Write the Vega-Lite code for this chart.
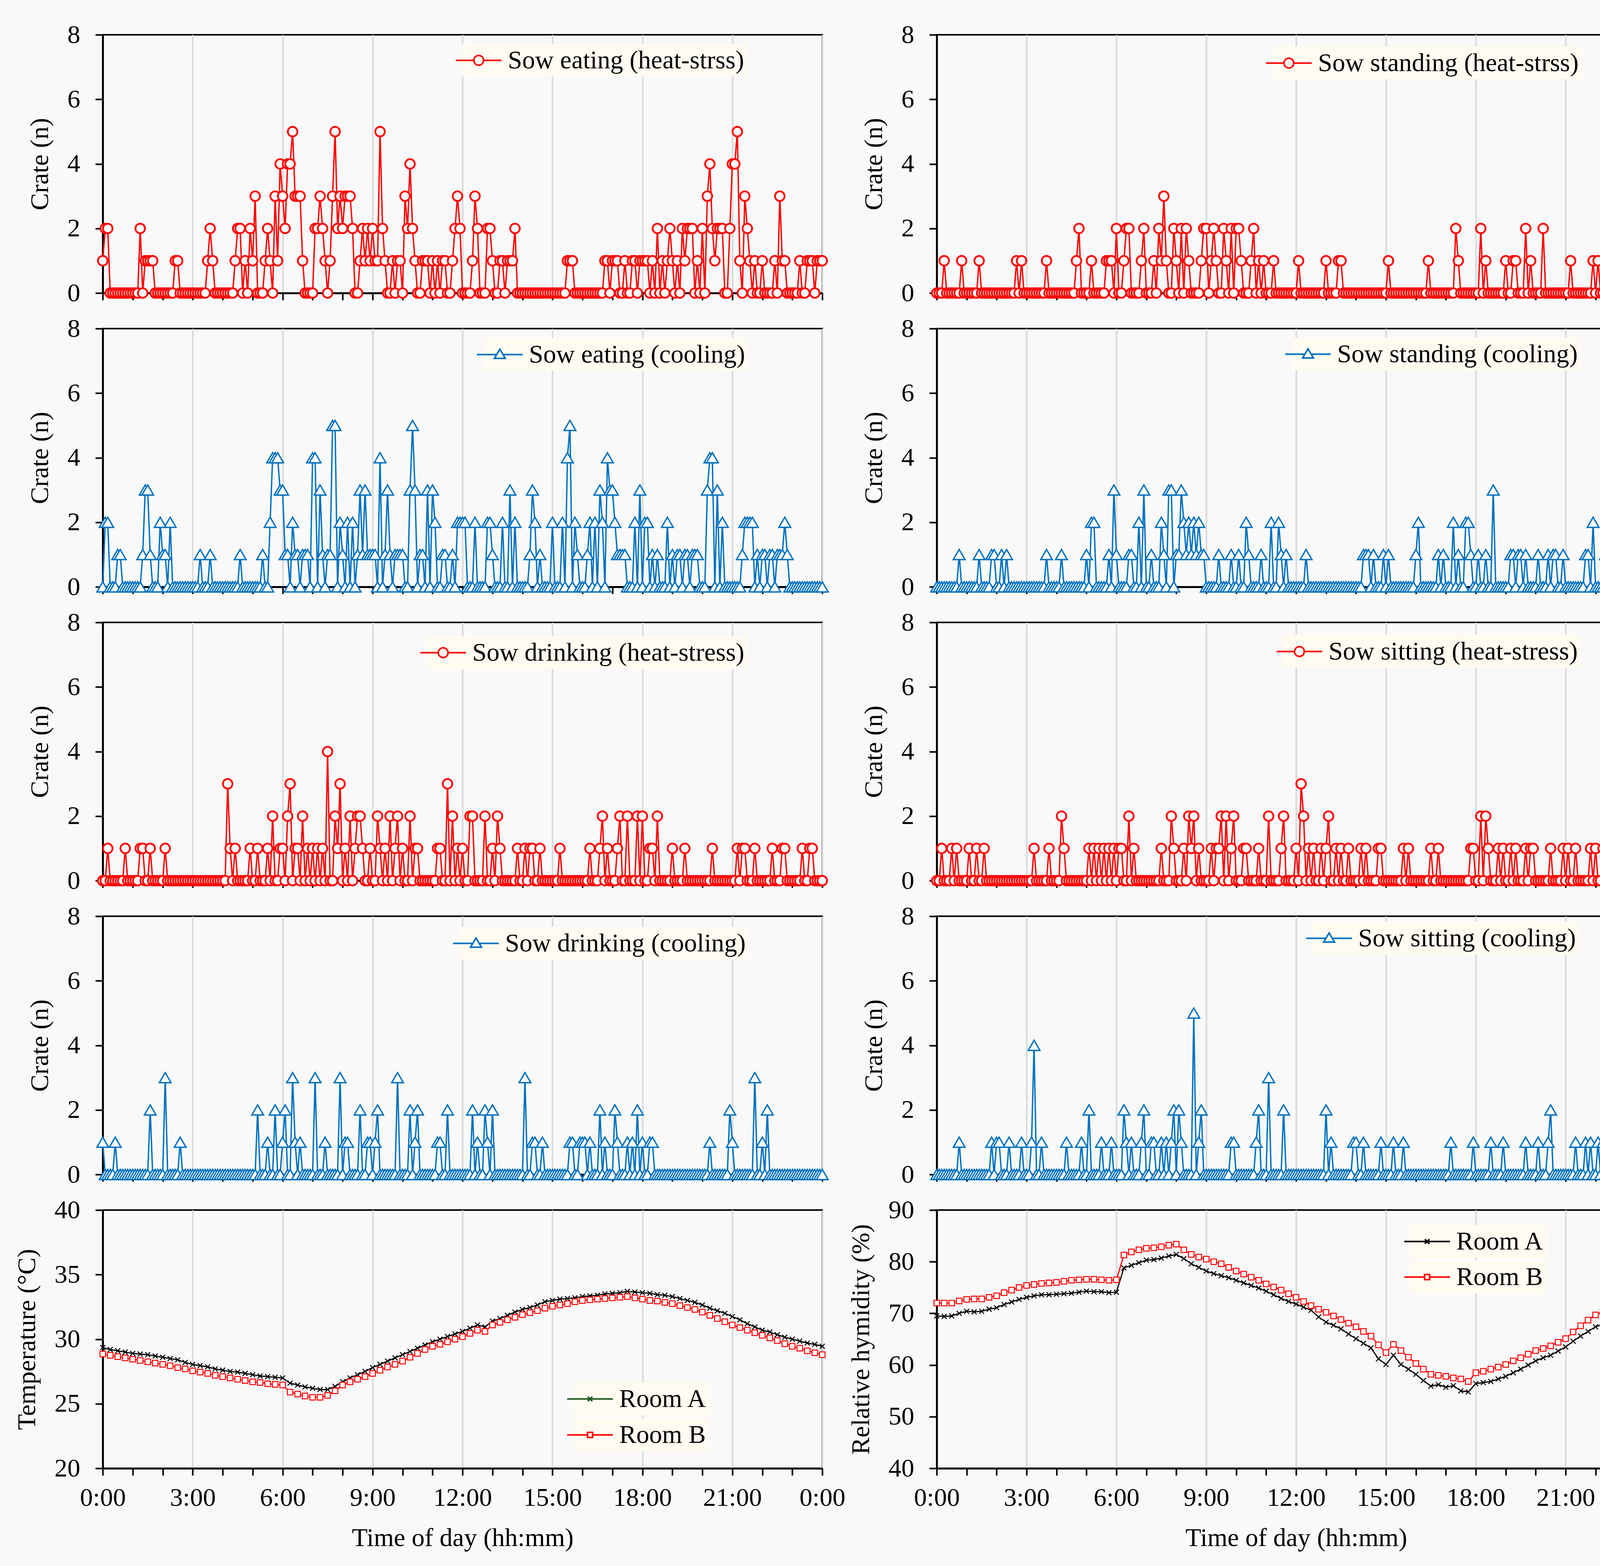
{
"$schema":"https://vega.github.io/schema/vega-lite/v6.json",
"background":"#F9F9F9",
"padding":{"left":34,"top":54,"right":30,"bottom":40},
"datasets":{
"c":[
{"t":0,"a":1,"b":0,"c":0,"d":0,"e":0,"f":0,"g":1,"h":0},
{"t":5,"a":2,"b":0,"c":2,"d":0,"e":0,"f":0,"g":0,"h":0},
{"t":10,"a":2,"b":0,"c":2,"d":0,"e":1,"f":1,"g":0,"h":0},
{"t":15,"a":0,"b":1,"c":0,"d":0,"e":0,"f":0,"g":0,"h":0},
{"t":20,"a":0,"b":0,"c":0,"d":0,"e":0,"f":0,"g":0,"h":0},
{"t":25,"a":0,"b":0,"c":0,"d":0,"e":0,"f":0,"g":1,"h":0},
{"t":30,"a":0,"b":0,"c":1,"d":0,"e":0,"f":1,"g":0,"h":0},
{"t":35,"a":0,"b":0,"c":1,"d":0,"e":0,"f":0,"g":0,"h":0},
{"t":40,"a":0,"b":0,"c":0,"d":0,"e":0,"f":1,"g":0,"h":0},
{"t":45,"a":0,"b":0,"c":0,"d":1,"e":1,"f":0,"g":0,"h":1},
{"t":50,"a":0,"b":1,"c":0,"d":0,"e":0,"f":0,"g":0,"h":0},
{"t":55,"a":0,"b":0,"c":0,"d":0,"e":0,"f":0,"g":0,"h":0},
{"t":60,"a":0,"b":0,"c":0,"d":0,"e":0,"f":0,"g":0,"h":0},
{"t":65,"a":0,"b":0,"c":0,"d":0,"e":0,"f":1,"g":0,"h":0},
{"t":70,"a":0,"b":0,"c":0,"d":0,"e":0,"f":0,"g":0,"h":0},
{"t":75,"a":2,"b":0,"c":0,"d":0,"e":1,"f":0,"g":0,"h":0},
{"t":80,"a":0,"b":0,"c":1,"d":0,"e":1,"f":1,"g":0,"h":0},
{"t":85,"a":1,"b":1,"c":3,"d":1,"e":0,"f":0,"g":0,"h":0},
{"t":90,"a":1,"b":0,"c":3,"d":0,"e":0,"f":0,"g":0,"h":0},
{"t":95,"a":1,"b":0,"c":1,"d":0,"e":1,"f":1,"g":2,"h":0},
{"t":100,"a":1,"b":0,"c":0,"d":0,"e":0,"f":0,"g":0,"h":0},
{"t":105,"a":0,"b":0,"c":0,"d":0,"e":0,"f":0,"g":0,"h":0},
{"t":110,"a":0,"b":0,"c":0,"d":1,"e":0,"f":0,"g":0,"h":1},
{"t":115,"a":0,"b":0,"c":2,"d":1,"e":0,"f":0,"g":0,"h":0},
{"t":120,"a":0,"b":0,"c":1,"d":0,"e":0,"f":0,"g":0,"h":1},
{"t":125,"a":0,"b":0,"c":1,"d":0,"e":1,"f":0,"g":3,"h":1},
{"t":130,"a":0,"b":0,"c":0,"d":1,"e":0,"f":0,"g":0,"h":0},
{"t":135,"a":0,"b":0,"c":2,"d":0,"e":0,"f":0,"g":0,"h":0},
{"t":140,"a":0,"b":0,"c":0,"d":1,"e":0,"f":0,"g":0,"h":0},
{"t":145,"a":1,"b":0,"c":0,"d":0,"e":0,"f":0,"g":0,"h":1},
{"t":150,"a":1,"b":0,"c":0,"d":0,"e":0,"f":0,"g":0,"h":0},
{"t":155,"a":0,"b":0,"c":0,"d":0,"e":0,"f":0,"g":1,"h":0},
{"t":160,"a":0,"b":1,"c":0,"d":0,"e":0,"f":0,"g":0,"h":0},
{"t":165,"a":0,"b":0,"c":0,"d":0,"e":0,"f":0,"g":0,"h":0},
{"t":170,"a":0,"b":1,"c":0,"d":0,"e":0,"f":0,"g":0,"h":1},
{"t":175,"a":0,"b":0,"c":0,"d":0,"e":0,"f":0,"g":0,"h":0},
{"t":180,"a":0,"b":0,"c":0,"d":0,"e":0,"f":0,"g":0,"h":0},
{"t":185,"a":0,"b":0,"c":0,"d":0,"e":0,"f":0,"g":0,"h":0},
{"t":190,"a":0,"b":0,"c":0,"d":0,"e":0,"f":0,"g":0,"h":1},
{"t":195,"a":0,"b":0,"c":1,"d":0,"e":0,"f":1,"g":0,"h":4},
{"t":200,"a":0,"b":0,"c":0,"d":0,"e":0,"f":0,"g":0,"h":0},
{"t":205,"a":0,"b":0,"c":0,"d":0,"e":0,"f":0,"g":0,"h":0},
{"t":210,"a":1,"b":0,"c":0,"d":0,"e":0,"f":0,"g":0,"h":1},
{"t":215,"a":2,"b":0,"c":1,"d":0,"e":0,"f":0,"g":0,"h":0},
{"t":220,"a":1,"b":1,"c":0,"d":1,"e":0,"f":0,"g":0,"h":0},
{"t":225,"a":0,"b":0,"c":0,"d":0,"e":0,"f":1,"g":0,"h":0},
{"t":230,"a":0,"b":0,"c":0,"d":0,"e":0,"f":0,"g":0,"h":0},
{"t":235,"a":0,"b":0,"c":0,"d":0,"e":0,"f":0,"g":0,"h":0},
{"t":240,"a":0,"b":0,"c":0,"d":0,"e":0,"f":0,"g":0,"h":0},
{"t":245,"a":0,"b":0,"c":0,"d":0,"e":0,"f":0,"g":0,"h":0},
{"t":250,"a":0,"b":0,"c":0,"d":1,"e":3,"f":2,"g":0,"h":0},
{"t":255,"a":0,"b":0,"c":0,"d":0,"e":1,"f":1,"g":0,"h":0},
{"t":260,"a":0,"b":0,"c":0,"d":0,"e":0,"f":0,"g":0,"h":1},
{"t":265,"a":1,"b":0,"c":0,"d":0,"e":1,"f":0,"g":0,"h":0},
{"t":270,"a":2,"b":0,"c":0,"d":0,"e":0,"f":0,"g":0,"h":0},
{"t":275,"a":2,"b":0,"c":1,"d":0,"e":0,"f":0,"g":0,"h":0},
{"t":280,"a":0,"b":1,"c":0,"d":0,"e":0,"f":0,"g":0,"h":0},
{"t":285,"a":1,"b":2,"c":0,"d":0,"e":0,"f":0,"g":0,"h":0},
{"t":290,"a":0,"b":0,"c":0,"d":0,"e":0,"f":0,"g":0,"h":1},
{"t":295,"a":2,"b":0,"c":0,"d":0,"e":1,"f":0,"g":0,"h":0},
{"t":300,"a":1,"b":0,"c":0,"d":1,"e":0,"f":0,"g":0,"h":0},
{"t":305,"a":3,"b":0,"c":0,"d":0,"e":0,"f":1,"g":0,"h":2},
{"t":310,"a":0,"b":1,"c":0,"d":2,"e":1,"f":0,"g":2,"h":0},
{"t":315,"a":0,"b":0,"c":0,"d":2,"e":0,"f":1,"g":0,"h":0},
{"t":320,"a":0,"b":0,"c":1,"d":0,"e":0,"f":0,"g":0,"h":0},
{"t":325,"a":1,"b":0,"c":0,"d":0,"e":0,"f":1,"g":0,"h":0},
{"t":330,"a":2,"b":0,"c":0,"d":0,"e":1,"f":0,"g":1,"h":1},
{"t":335,"a":1,"b":0,"c":2,"d":0,"e":0,"f":1,"g":0,"h":0},
{"t":340,"a":0,"b":1,"c":4,"d":0,"e":2,"f":0,"g":0,"h":0},
{"t":345,"a":3,"b":1,"c":4,"d":1,"e":0,"f":1,"g":2,"h":0},
{"t":350,"a":1,"b":1,"c":4,"d":0,"e":0,"f":0,"g":0,"h":1},
{"t":355,"a":4,"b":0,"c":3,"d":3,"e":1,"f":1,"g":0,"h":0},
{"t":360,"a":3,"b":2,"c":3,"d":1,"e":1,"f":0,"g":1,"h":0},
{"t":365,"a":2,"b":0,"c":1,"d":0,"e":0,"f":1,"g":2,"h":0},
{"t":370,"a":4,"b":0,"c":1,"d":0,"e":2,"f":1,"g":0,"h":0},
{"t":375,"a":4,"b":1,"c":0,"d":0,"e":3,"f":0,"g":0,"h":2},
{"t":380,"a":5,"b":2,"c":2,"d":0,"e":0,"f":0,"g":3,"h":1},
{"t":385,"a":3,"b":2,"c":1,"d":1,"e":1,"f":2,"g":1,"h":0},
{"t":390,"a":3,"b":0,"c":1,"d":1,"e":1,"f":0,"g":0,"h":1},
{"t":395,"a":3,"b":0,"c":0,"d":0,"e":0,"f":1,"g":1,"h":0},
{"t":400,"a":1,"b":0,"c":1,"d":0,"e":2,"f":0,"g":0,"h":0},
{"t":405,"a":0,"b":0,"c":1,"d":2,"e":0,"f":0,"g":0,"h":0},
{"t":410,"a":0,"b":1,"c":1,"d":0,"e":1,"f":0,"g":0,"h":1},
{"t":415,"a":0,"b":2,"c":0,"d":3,"e":0,"f":0,"g":0,"h":2},
{"t":420,"a":0,"b":0,"c":4,"d":0,"e":1,"f":0,"g":0,"h":0},
{"t":425,"a":2,"b":0,"c":4,"d":0,"e":0,"f":0,"g":3,"h":0},
{"t":430,"a":2,"b":0,"c":0,"d":1,"e":1,"f":0,"g":0,"h":1},
{"t":435,"a":3,"b":1,"c":3,"d":0,"e":0,"f":0,"g":0,"h":1},
{"t":440,"a":2,"b":0,"c":1,"d":0,"e":1,"f":0,"g":0,"h":0},
{"t":445,"a":1,"b":2,"c":0,"d":0,"e":0,"f":0,"g":1,"h":0},
{"t":450,"a":0,"b":1,"c":1,"d":2,"e":4,"f":1,"g":0,"h":1},
{"t":455,"a":1,"b":3,"c":1,"d":1,"e":0,"f":0,"g":0,"h":0},
{"t":460,"a":3,"b":1,"c":5,"d":0,"e":0,"f":0,"g":0,"h":1},
{"t":465,"a":5,"b":0,"c":5,"d":3,"e":2,"f":0,"g":0,"h":0},
{"t":470,"a":2,"b":0,"c":0,"d":3,"e":1,"f":2,"g":0,"h":1},
{"t":475,"a":3,"b":2,"c":2,"d":0,"e":3,"f":1,"g":3,"h":2},
{"t":480,"a":2,"b":1,"c":1,"d":1,"e":0,"f":0,"g":0,"h":0},
{"t":485,"a":3,"b":0,"c":0,"d":1,"e":1,"f":0,"g":1,"h":2},
{"t":490,"a":3,"b":2,"c":2,"d":3,"e":0,"f":0,"g":1,"h":1},
{"t":495,"a":3,"b":0,"c":0,"d":2,"e":2,"f":1,"g":0,"h":0},
{"t":500,"a":2,"b":2,"c":2,"d":1,"e":0,"f":0,"g":0,"h":0},
{"t":505,"a":0,"b":1,"c":0,"d":2,"e":1,"f":2,"g":0,"h":0},
{"t":510,"a":0,"b":0,"c":1,"d":1,"e":2,"f":1,"g":0,"h":0},
{"t":515,"a":1,"b":0,"c":3,"d":2,"e":2,"f":2,"g":2,"h":5},
{"t":520,"a":2,"b":0,"c":1,"d":1,"e":1,"f":0,"g":0,"h":0},
{"t":525,"a":1,"b":0,"c":3,"d":2,"e":0,"f":1,"g":0,"h":1},
{"t":530,"a":2,"b":1,"c":1,"d":1,"e":0,"f":0,"g":1,"h":2},
{"t":535,"a":1,"b":2,"c":1,"d":1,"e":1,"f":0,"g":1,"h":0},
{"t":540,"a":2,"b":2,"c":1,"d":0,"e":0,"f":0,"g":0,"h":0},
{"t":545,"a":1,"b":0,"c":1,"d":0,"e":0,"f":0,"g":1,"h":0},
{"t":550,"a":1,"b":1,"c":0,"d":0,"e":2,"f":1,"g":2,"h":0},
{"t":555,"a":5,"b":2,"c":4,"d":0,"e":1,"f":0,"g":0,"h":0},
{"t":560,"a":2,"b":1,"c":0,"d":0,"e":0,"f":1,"g":0,"h":0},
{"t":565,"a":1,"b":0,"c":1,"d":1,"e":1,"f":1,"g":0,"h":0},
{"t":570,"a":0,"b":0,"c":3,"d":0,"e":0,"f":2,"g":0,"h":0},
{"t":575,"a":0,"b":2,"c":1,"d":0,"e":2,"f":0,"g":0,"h":0},
{"t":580,"a":1,"b":1,"c":0,"d":0,"e":0,"f":2,"g":0,"h":0},
{"t":585,"a":0,"b":0,"c":1,"d":0,"e":1,"f":0,"g":0,"h":0},
{"t":590,"a":1,"b":2,"c":1,"d":1,"e":2,"f":1,"g":3,"h":1},
{"t":595,"a":1,"b":0,"c":1,"d":0,"e":0,"f":2,"g":0,"h":1},
{"t":600,"a":0,"b":2,"c":1,"d":0,"e":1,"f":0,"g":0,"h":0},
{"t":605,"a":3,"b":2,"c":0,"d":1,"e":0,"f":0,"g":0,"h":0},
{"t":610,"a":2,"b":1,"c":0,"d":0,"e":0,"f":0,"g":0,"h":0},
{"t":615,"a":4,"b":0,"c":3,"d":0,"e":2,"f":1,"g":2,"h":0},
{"t":620,"a":2,"b":0,"c":5,"d":2,"e":0,"f":1,"g":0,"h":0},
{"t":625,"a":1,"b":0,"c":3,"d":1,"e":1,"f":0,"g":1,"h":0},
{"t":630,"a":0,"b":1,"c":0,"d":0,"e":1,"f":0,"g":2,"h":0},
{"t":635,"a":0,"b":2,"c":1,"d":0,"e":0,"f":0,"g":0,"h":0},
{"t":640,"a":1,"b":0,"c":1,"d":0,"e":0,"f":0,"g":0,"h":1},
{"t":645,"a":1,"b":1,"c":0,"d":0,"e":0,"f":1,"g":0,"h":2},
{"t":650,"a":1,"b":0,"c":3,"d":1,"e":0,"f":0,"g":0,"h":0},
{"t":655,"a":0,"b":1,"c":0,"d":0,"e":0,"f":0,"g":0,"h":0},
{"t":660,"a":1,"b":0,"c":3,"d":0,"e":0,"f":0,"g":0,"h":0},
{"t":665,"a":0,"b":0,"c":2,"d":0,"e":0,"f":2,"g":0,"h":3},
{"t":670,"a":1,"b":0,"c":0,"d":2,"e":1,"f":0,"g":1,"h":0},
{"t":675,"a":0,"b":1,"c":0,"d":0,"e":1,"f":0,"g":1,"h":0},
{"t":680,"a":1,"b":0,"c":1,"d":0,"e":0,"f":0,"g":0,"h":0},
{"t":685,"a":1,"b":0,"c":1,"d":2,"e":0,"f":0,"g":0,"h":0},
{"t":690,"a":0,"b":0,"c":0,"d":1,"e":3,"f":1,"g":2,"h":0},
{"t":695,"a":0,"b":0,"c":0,"d":0,"e":0,"f":2,"g":0,"h":2},
{"t":700,"a":1,"b":0,"c":1,"d":1,"e":2,"f":0,"g":0,"h":0},
{"t":705,"a":2,"b":0,"c":0,"d":0,"e":0,"f":0,"g":0,"h":0},
{"t":710,"a":3,"b":0,"c":2,"d":0,"e":1,"f":0,"g":0,"h":0},
{"t":715,"a":2,"b":0,"c":2,"d":0,"e":0,"f":0,"g":0,"h":0},
{"t":720,"a":0,"b":0,"c":2,"d":0,"e":1,"f":1,"g":0,"h":0},
{"t":725,"a":0,"b":1,"c":2,"d":0,"e":0,"f":0,"g":0,"h":0},
{"t":730,"a":0,"b":0,"c":0,"d":0,"e":0,"f":3,"g":0,"h":0},
{"t":735,"a":0,"b":0,"c":0,"d":0,"e":2,"f":2,"g":0,"h":0},
{"t":740,"a":1,"b":0,"c":0,"d":1,"e":2,"f":0,"g":2,"h":0},
{"t":745,"a":3,"b":0,"c":2,"d":0,"e":0,"f":1,"g":0,"h":0},
{"t":750,"a":2,"b":0,"c":0,"d":0,"e":0,"f":0,"g":1,"h":0},
{"t":755,"a":0,"b":0,"c":0,"d":0,"e":0,"f":1,"g":0,"h":0},
{"t":760,"a":0,"b":0,"c":0,"d":0,"e":0,"f":0,"g":0,"h":0},
{"t":765,"a":0,"b":0,"c":0,"d":0,"e":2,"f":0,"g":2,"h":0},
{"t":770,"a":2,"b":0,"c":2,"d":0,"e":0,"f":1,"g":1,"h":0},
{"t":775,"a":2,"b":0,"c":2,"d":0,"e":0,"f":0,"g":0,"h":0},
{"t":780,"a":1,"b":1,"c":1,"d":0,"e":1,"f":1,"g":2,"h":2},
{"t":785,"a":0,"b":0,"c":0,"d":0,"e":0,"f":2,"g":0,"h":0},
{"t":790,"a":0,"b":0,"c":0,"d":0,"e":2,"f":0,"g":0,"h":1},
{"t":795,"a":1,"b":0,"c":0,"d":0,"e":1,"f":0,"g":0,"h":0},
{"t":800,"a":1,"b":0,"c":2,"d":0,"e":0,"f":1,"g":0,"h":0},
{"t":805,"a":0,"b":1,"c":0,"d":0,"e":0,"f":0,"g":0,"h":0},
{"t":810,"a":1,"b":1,"c":0,"d":0,"e":0,"f":1,"g":0,"h":0},
{"t":815,"a":1,"b":0,"c":3,"d":0,"e":0,"f":0,"g":0,"h":0},
{"t":820,"a":1,"b":0,"c":0,"d":0,"e":0,"f":0,"g":0,"h":0},
{"t":825,"a":2,"b":0,"c":2,"d":0,"e":0,"f":1,"g":0,"h":0},
{"t":830,"a":0,"b":0,"c":0,"d":0,"e":1,"f":0,"g":0,"h":0},
{"t":835,"a":0,"b":0,"c":0,"d":0,"e":0,"f":0,"g":0,"h":1},
{"t":840,"a":0,"b":0,"c":0,"d":0,"e":0,"f":0,"g":0,"h":1},
{"t":845,"a":0,"b":0,"c":0,"d":0,"e":1,"f":0,"g":3,"h":0},
{"t":850,"a":0,"b":0,"c":0,"d":0,"e":0,"f":1,"g":0,"h":0},
{"t":855,"a":0,"b":0,"c":1,"d":1,"e":1,"f":0,"g":0,"h":1},
{"t":860,"a":0,"b":0,"c":3,"d":1,"e":1,"f":1,"g":1,"h":0},
{"t":865,"a":0,"b":0,"c":2,"d":1,"e":0,"f":0,"g":1,"h":0},
{"t":870,"a":0,"b":0,"c":0,"d":0,"e":0,"f":0,"g":0,"h":0},
{"t":875,"a":0,"b":0,"c":1,"d":1,"e":1,"f":0,"g":0,"h":0},
{"t":880,"a":0,"b":0,"c":0,"d":0,"e":0,"f":0,"g":1,"h":0},
{"t":885,"a":0,"b":0,"c":0,"d":0,"e":0,"f":1,"g":0,"h":0},
{"t":890,"a":0,"b":0,"c":0,"d":0,"e":0,"f":1,"g":0,"h":1},
{"t":895,"a":0,"b":0,"c":0,"d":1,"e":0,"f":0,"g":0,"h":0},
{"t":900,"a":0,"b":0,"c":2,"d":0,"e":0,"f":0,"g":0,"h":0},
{"t":905,"a":0,"b":1,"c":0,"d":1,"e":0,"f":0,"g":0,"h":0},
{"t":910,"a":0,"b":0,"c":0,"d":0,"e":0,"f":0,"g":0,"h":0},
{"t":915,"a":0,"b":0,"c":0,"d":0,"e":1,"f":0,"g":0,"h":1},
{"t":920,"a":0,"b":0,"c":2,"d":0,"e":0,"f":0,"g":0,"h":0},
{"t":925,"a":0,"b":0,"c":0,"d":0,"e":0,"f":0,"g":0,"h":0},
{"t":930,"a":1,"b":0,"c":4,"d":0,"e":0,"f":0,"g":0,"h":0},
{"t":935,"a":1,"b":0,"c":5,"d":0,"e":0,"f":1,"g":1,"h":1},
{"t":940,"a":1,"b":0,"c":0,"d":0,"e":0,"f":0,"g":1,"h":0},
{"t":945,"a":0,"b":0,"c":2,"d":0,"e":0,"f":1,"g":0,"h":0},
{"t":950,"a":0,"b":0,"c":1,"d":0,"e":0,"f":0,"g":0,"h":0},
{"t":955,"a":0,"b":0,"c":0,"d":0,"e":0,"f":0,"g":1,"h":0},
{"t":960,"a":0,"b":0,"c":0,"d":1,"e":0,"f":0,"g":1,"h":0},
{"t":965,"a":0,"b":0,"c":0,"d":2,"e":0,"f":0,"g":1,"h":0},
{"t":970,"a":0,"b":0,"c":1,"d":0,"e":0,"f":0,"g":0,"h":0},
{"t":975,"a":0,"b":0,"c":2,"d":0,"e":1,"f":0,"g":1,"h":0},
{"t":980,"a":0,"b":0,"c":0,"d":0,"e":0,"f":0,"g":0,"h":0},
{"t":985,"a":0,"b":1,"c":2,"d":0,"e":0,"f":0,"g":0,"h":0},
{"t":990,"a":0,"b":0,"c":0,"d":0,"e":0,"f":1,"g":0,"h":0},
{"t":995,"a":0,"b":0,"c":3,"d":0,"e":1,"f":0,"g":2,"h":0},
{"t":1000,"a":0,"b":0,"c":2,"d":0,"e":2,"f":0,"g":0,"h":0},
{"t":1005,"a":1,"b":0,"c":0,"d":1,"e":0,"f":1,"g":1,"h":0},
{"t":1010,"a":1,"b":0,"c":4,"d":0,"e":1,"f":0,"g":0,"h":0},
{"t":1015,"a":0,"b":0,"c":3,"d":1,"e":0,"f":0,"g":0,"h":0},
{"t":1020,"a":1,"b":0,"c":3,"d":0,"e":0,"f":0,"g":0,"h":0},
{"t":1025,"a":1,"b":0,"c":2,"d":0,"e":0,"f":0,"g":2,"h":0},
{"t":1030,"a":1,"b":0,"c":1,"d":0,"e":1,"f":0,"g":1,"h":1},
{"t":1035,"a":0,"b":0,"c":1,"d":2,"e":2,"f":0,"g":0,"h":0},
{"t":1040,"a":0,"b":2,"c":1,"d":0,"e":0,"f":0,"g":0,"h":0},
{"t":1045,"a":1,"b":1,"c":1,"d":1,"e":0,"f":0,"g":0,"h":0},
{"t":1050,"a":0,"b":0,"c":0,"d":0,"e":2,"f":0,"g":1,"h":0},
{"t":1055,"a":0,"b":0,"c":0,"d":0,"e":0,"f":0,"g":0,"h":0},
{"t":1060,"a":1,"b":0,"c":0,"d":2,"e":0,"f":0,"g":1,"h":0},
{"t":1065,"a":1,"b":0,"c":2,"d":2,"e":0,"f":0,"g":0,"h":0},
{"t":1070,"a":0,"b":0,"c":0,"d":1,"e":2,"f":1,"g":2,"h":0},
{"t":1075,"a":1,"b":0,"c":3,"d":0,"e":0,"f":1,"g":0,"h":1},
{"t":1080,"a":1,"b":0,"c":0,"d":0,"e":2,"f":0,"g":1,"h":0},
{"t":1085,"a":1,"b":0,"c":2,"d":1,"e":0,"f":0,"g":0,"h":0},
{"t":1090,"a":1,"b":2,"c":2,"d":0,"e":0,"f":2,"g":0,"h":0},
{"t":1095,"a":0,"b":0,"c":0,"d":0,"e":1,"f":0,"g":1,"h":0},
{"t":1100,"a":1,"b":1,"c":1,"d":1,"e":1,"f":2,"g":1,"h":0},
{"t":1105,"a":0,"b":0,"c":0,"d":0,"e":0,"f":1,"g":0,"h":0},
{"t":1110,"a":2,"b":0,"c":1,"d":0,"e":2,"f":0,"g":0,"h":1},
{"t":1115,"a":0,"b":0,"c":0,"d":3,"e":0,"f":0,"g":0,"h":0},
{"t":1120,"a":1,"b":0,"c":0,"d":0,"e":0,"f":0,"g":0,"h":0},
{"t":1125,"a":0,"b":0,"c":0,"d":0,"e":0,"f":1,"g":0,"h":0},
{"t":1130,"a":1,"b":0,"c":2,"d":0,"e":0,"f":0,"g":0,"h":0},
{"t":1135,"a":2,"b":0,"c":0,"d":0,"e":0,"f":1,"g":0,"h":1},
{"t":1140,"a":1,"b":1,"c":1,"d":0,"e":1,"f":0,"g":0,"h":0},
{"t":1145,"a":0,"b":0,"c":0,"d":0,"e":0,"f":0,"g":0,"h":0},
{"t":1150,"a":1,"b":0,"c":1,"d":1,"e":0,"f":1,"g":0,"h":0},
{"t":1155,"a":0,"b":1,"c":1,"d":1,"e":0,"f":0,"g":0,"h":0},
{"t":1160,"a":2,"b":1,"c":0,"d":0,"e":0,"f":1,"g":0,"h":0},
{"t":1165,"a":1,"b":0,"c":1,"d":1,"e":1,"f":0,"g":0,"h":0},
{"t":1170,"a":2,"b":0,"c":1,"d":1,"e":0,"f":0,"g":0,"h":0},
{"t":1175,"a":2,"b":0,"c":0,"d":0,"e":0,"f":0,"g":0,"h":0},
{"t":1180,"a":2,"b":2,"c":1,"d":1,"e":0,"f":1,"g":0,"h":1},
{"t":1185,"a":0,"b":0,"c":1,"d":0,"e":0,"f":0,"g":0,"h":0},
{"t":1190,"a":1,"b":1,"c":1,"d":0,"e":0,"f":1,"g":0,"h":0},
{"t":1195,"a":0,"b":0,"c":0,"d":0,"e":0,"f":1,"g":0,"h":0},
{"t":1200,"a":2,"b":0,"c":0,"d":0,"e":0,"f":0,"g":0,"h":0},
{"t":1205,"a":0,"b":0,"c":0,"d":1,"e":0,"f":0,"g":0,"h":1},
{"t":1210,"a":3,"b":0,"c":3,"d":0,"e":0,"f":0,"g":0,"h":0},
{"t":1215,"a":4,"b":2,"c":4,"d":0,"e":0,"f":0,"g":1,"h":0},
{"t":1220,"a":2,"b":0,"c":4,"d":0,"e":1,"f":0,"g":0,"h":0},
{"t":1225,"a":1,"b":0,"c":0,"d":1,"e":0,"f":0,"g":0,"h":1},
{"t":1230,"a":2,"b":0,"c":3,"d":0,"e":0,"f":1,"g":0,"h":2},
{"t":1235,"a":2,"b":0,"c":0,"d":1,"e":0,"f":0,"g":0,"h":0},
{"t":1240,"a":2,"b":0,"c":2,"d":1,"e":0,"f":0,"g":0,"h":0},
{"t":1245,"a":0,"b":0,"c":0,"d":0,"e":0,"f":0,"g":0,"h":0},
{"t":1250,"a":0,"b":0,"c":0,"d":0,"e":0,"f":0,"g":0,"h":0},
{"t":1255,"a":2,"b":0,"c":0,"d":1,"e":0,"f":1,"g":2,"h":0},
{"t":1260,"a":4,"b":0,"c":0,"d":0,"e":0,"f":0,"g":1,"h":0},
{"t":1265,"a":4,"b":0,"c":0,"d":0,"e":0,"f":1,"g":0,"h":0},
{"t":1270,"a":5,"b":1,"c":0,"d":0,"e":1,"f":0,"g":0,"h":0},
{"t":1275,"a":1,"b":0,"c":0,"d":0,"e":0,"f":0,"g":0,"h":0},
{"t":1280,"a":0,"b":0,"c":1,"d":0,"e":1,"f":1,"g":0,"h":1},
{"t":1285,"a":3,"b":0,"c":2,"d":0,"e":1,"f":0,"g":0,"h":0},
{"t":1290,"a":2,"b":0,"c":2,"d":0,"e":0,"f":0,"g":0,"h":0},
{"t":1295,"a":1,"b":0,"c":2,"d":0,"e":0,"f":0,"g":0,"h":0},
{"t":1300,"a":0,"b":0,"c":2,"d":1,"e":0,"f":0,"g":0,"h":1},
{"t":1305,"a":1,"b":0,"c":0,"d":1,"e":1,"f":0,"g":3,"h":0},
{"t":1310,"a":0,"b":0,"c":1,"d":0,"e":0,"f":1,"g":0,"h":1},
{"t":1315,"a":0,"b":1,"c":0,"d":2,"e":0,"f":0,"g":0,"h":0},
{"t":1320,"a":1,"b":0,"c":1,"d":0,"e":0,"f":1,"g":1,"h":0},
{"t":1325,"a":0,"b":1,"c":1,"d":0,"e":0,"f":0,"g":0,"h":1},
{"t":1330,"a":0,"b":0,"c":0,"d":0,"e":0,"f":0,"g":2,"h":0},
{"t":1335,"a":0,"b":0,"c":1,"d":0,"e":0,"f":1,"g":0,"h":1},
{"t":1340,"a":0,"b":0,"c":1,"d":1,"e":1,"f":0,"g":0,"h":0},
{"t":1345,"a":1,"b":0,"c":0,"d":0,"e":0,"f":0,"g":0,"h":0},
{"t":1350,"a":0,"b":0,"c":1,"d":0,"e":0,"f":0,"g":0,"h":1},
{"t":1355,"a":3,"b":0,"c":1,"d":1,"e":0,"f":0,"g":0,"h":0},
{"t":1360,"a":1,"b":1,"c":1,"d":0,"e":1,"f":0,"g":0,"h":0},
{"t":1365,"a":1,"b":0,"c":2,"d":0,"e":1,"f":0,"g":0,"h":0},
{"t":1370,"a":0,"b":0,"c":1,"d":1,"e":0,"f":0,"g":0,"h":0},
{"t":1375,"a":0,"b":0,"c":0,"d":0,"e":0,"f":0,"g":0,"h":0},
{"t":1380,"a":0,"b":0,"c":0,"d":0,"e":0,"f":0,"g":0,"h":0},
{"t":1385,"a":0,"b":0,"c":0,"d":0,"e":0,"f":0,"g":0,"h":0},
{"t":1390,"a":0,"b":0,"c":0,"d":0,"e":0,"f":0,"g":0,"h":1},
{"t":1395,"a":1,"b":0,"c":0,"d":1,"e":0,"f":0,"g":0,"h":0},
{"t":1400,"a":0,"b":0,"c":0,"d":0,"e":1,"f":0,"g":0,"h":0},
{"t":1405,"a":0,"b":0,"c":0,"d":0,"e":0,"f":1,"g":0,"h":0},
{"t":1410,"a":1,"b":0,"c":0,"d":0,"e":0,"f":0,"g":0,"h":1},
{"t":1415,"a":1,"b":0,"c":0,"d":0,"e":1,"f":0,"g":0,"h":0},
{"t":1420,"a":1,"b":0,"c":0,"d":0,"e":1,"f":0,"g":0,"h":0},
{"t":1425,"a":0,"b":0,"c":0,"d":0,"e":0,"f":1,"g":0,"h":0},
{"t":1430,"a":1,"b":0,"c":0,"d":0,"e":0,"f":0,"g":0,"h":0},
{"t":1435,"a":1,"b":0,"c":0,"d":0,"e":0,"f":0,"g":0,"h":0},
{"t":1440,"a":1,"b":0,"c":0,"d":0,"e":0,"f":0,"g":0,"h":0}
],
"e":[
{"t":0,"ta":29.35,"tb":28.85,"ra":69.5,"rb":72.0},
{"t":15,"ta":29.2,"tb":28.75,"ra":69.4,"rb":72.0},
{"t":30,"ta":29.1,"tb":28.65,"ra":69.5,"rb":72.0},
{"t":45,"ta":29.0,"tb":28.55,"ra":70.0,"rb":72.4},
{"t":60,"ta":28.9,"tb":28.45,"ra":70.4,"rb":72.7},
{"t":75,"ta":28.85,"tb":28.35,"ra":70.3,"rb":72.8},
{"t":90,"ta":28.8,"tb":28.25,"ra":70.4,"rb":72.8},
{"t":105,"ta":28.7,"tb":28.15,"ra":70.8,"rb":73.1},
{"t":120,"ta":28.6,"tb":28.05,"ra":71.1,"rb":73.4},
{"t":135,"ta":28.5,"tb":27.95,"ra":71.7,"rb":74.0},
{"t":150,"ta":28.4,"tb":27.8,"ra":72.2,"rb":74.5},
{"t":165,"ta":28.2,"tb":27.7,"ra":72.7,"rb":75.0},
{"t":180,"ta":28.05,"tb":27.55,"ra":73.1,"rb":75.4},
{"t":195,"ta":27.95,"tb":27.45,"ra":73.4,"rb":75.6},
{"t":210,"ta":27.85,"tb":27.35,"ra":73.6,"rb":75.8},
{"t":225,"ta":27.7,"tb":27.2,"ra":73.6,"rb":75.9},
{"t":240,"ta":27.6,"tb":27.1,"ra":73.7,"rb":76.0},
{"t":255,"ta":27.5,"tb":27.0,"ra":73.8,"rb":76.2},
{"t":270,"ta":27.45,"tb":26.9,"ra":73.9,"rb":76.4},
{"t":285,"ta":27.35,"tb":26.8,"ra":74.1,"rb":76.5},
{"t":300,"ta":27.25,"tb":26.7,"ra":74.3,"rb":76.6},
{"t":315,"ta":27.15,"tb":26.65,"ra":74.2,"rb":76.6},
{"t":330,"ta":27.1,"tb":26.55,"ra":74.2,"rb":76.5},
{"t":345,"ta":27.05,"tb":26.5,"ra":74.0,"rb":76.4},
{"t":360,"ta":27.0,"tb":26.45,"ra":74.1,"rb":76.5},
{"t":375,"ta":26.6,"tb":25.9,"ra":78.8,"rb":81.3},
{"t":390,"ta":26.45,"tb":25.75,"ra":79.3,"rb":81.9},
{"t":405,"ta":26.3,"tb":25.6,"ra":79.8,"rb":82.3},
{"t":420,"ta":26.2,"tb":25.5,"ra":80.3,"rb":82.6},
{"t":435,"ta":26.1,"tb":25.5,"ra":80.4,"rb":82.7},
{"t":450,"ta":26.1,"tb":25.65,"ra":80.7,"rb":82.9},
{"t":465,"ta":26.35,"tb":26.0,"ra":81.1,"rb":83.2},
{"t":480,"ta":26.7,"tb":26.45,"ra":81.4,"rb":83.4},
{"t":495,"ta":27.0,"tb":26.7,"ra":80.6,"rb":82.3},
{"t":510,"ta":27.25,"tb":26.9,"ra":79.6,"rb":81.4},
{"t":525,"ta":27.5,"tb":27.1,"ra":78.9,"rb":80.9},
{"t":540,"ta":27.8,"tb":27.35,"ra":78.2,"rb":80.5},
{"t":555,"ta":28.05,"tb":27.6,"ra":77.7,"rb":80.0},
{"t":570,"ta":28.3,"tb":27.85,"ra":77.3,"rb":79.6},
{"t":585,"ta":28.55,"tb":28.05,"ra":76.9,"rb":78.9},
{"t":600,"ta":28.8,"tb":28.3,"ra":76.4,"rb":78.2},
{"t":615,"ta":29.05,"tb":28.6,"ra":75.9,"rb":77.6},
{"t":630,"ta":29.3,"tb":28.9,"ra":75.4,"rb":77.0},
{"t":645,"ta":29.55,"tb":29.2,"ra":74.9,"rb":76.4},
{"t":660,"ta":29.8,"tb":29.45,"ra":74.3,"rb":75.7},
{"t":675,"ta":30.0,"tb":29.6,"ra":73.6,"rb":75.1},
{"t":690,"ta":30.2,"tb":29.8,"ra":72.9,"rb":74.5},
{"t":705,"ta":30.4,"tb":30.0,"ra":72.3,"rb":73.8},
{"t":720,"ta":30.6,"tb":30.2,"ra":71.8,"rb":73.1},
{"t":735,"ta":30.85,"tb":30.45,"ra":71.2,"rb":72.3},
{"t":750,"ta":31.1,"tb":30.7,"ra":70.6,"rb":71.5},
{"t":765,"ta":30.95,"tb":30.6,"ra":69.3,"rb":70.8},
{"t":780,"ta":31.4,"tb":31.1,"ra":68.3,"rb":70.2},
{"t":795,"ta":31.6,"tb":31.3,"ra":67.7,"rb":69.5},
{"t":810,"ta":31.85,"tb":31.5,"ra":67.0,"rb":68.8},
{"t":825,"ta":32.1,"tb":31.7,"ra":66.0,"rb":68.1},
{"t":840,"ta":32.3,"tb":31.9,"ra":65.1,"rb":67.4},
{"t":855,"ta":32.45,"tb":32.05,"ra":64.2,"rb":66.5},
{"t":870,"ta":32.65,"tb":32.2,"ra":63.3,"rb":65.6},
{"t":885,"ta":32.9,"tb":32.4,"ra":61.2,"rb":63.9},
{"t":900,"ta":33.0,"tb":32.55,"ra":60.1,"rb":62.4},
{"t":915,"ta":33.1,"tb":32.65,"ra":61.9,"rb":64.0},
{"t":930,"ta":33.15,"tb":32.75,"ra":60.1,"rb":62.8},
{"t":945,"ta":33.2,"tb":32.9,"ra":59.2,"rb":61.5},
{"t":960,"ta":33.3,"tb":33.0,"ra":58.2,"rb":60.3},
{"t":975,"ta":33.35,"tb":33.05,"ra":57.0,"rb":59.2},
{"t":990,"ta":33.4,"tb":33.1,"ra":55.9,"rb":58.2},
{"t":1005,"ta":33.5,"tb":33.15,"ra":56.2,"rb":58.0},
{"t":1020,"ta":33.55,"tb":33.2,"ra":55.7,"rb":57.8},
{"t":1035,"ta":33.6,"tb":33.25,"ra":56.0,"rb":57.5},
{"t":1050,"ta":33.7,"tb":33.3,"ra":55.0,"rb":57.3},
{"t":1065,"ta":33.65,"tb":33.2,"ra":54.8,"rb":56.8},
{"t":1080,"ta":33.6,"tb":33.1,"ra":56.4,"rb":58.5},
{"t":1095,"ta":33.55,"tb":33.0,"ra":56.6,"rb":58.8},
{"t":1110,"ta":33.45,"tb":32.95,"ra":56.8,"rb":59.2},
{"t":1125,"ta":33.4,"tb":32.85,"ra":57.3,"rb":59.6},
{"t":1140,"ta":33.3,"tb":32.75,"ra":57.8,"rb":60.1},
{"t":1155,"ta":33.15,"tb":32.6,"ra":58.5,"rb":60.8},
{"t":1170,"ta":33.0,"tb":32.45,"ra":59.2,"rb":61.4},
{"t":1185,"ta":32.85,"tb":32.3,"ra":60.0,"rb":62.1},
{"t":1200,"ta":32.65,"tb":32.1,"ra":60.8,"rb":62.8},
{"t":1215,"ta":32.4,"tb":31.85,"ra":61.4,"rb":63.2},
{"t":1230,"ta":32.2,"tb":31.6,"ra":61.9,"rb":63.7},
{"t":1245,"ta":32.0,"tb":31.35,"ra":62.7,"rb":64.4},
{"t":1260,"ta":31.75,"tb":31.1,"ra":63.5,"rb":65.1},
{"t":1275,"ta":31.5,"tb":30.9,"ra":64.6,"rb":66.4},
{"t":1290,"ta":31.2,"tb":30.7,"ra":65.6,"rb":67.6},
{"t":1305,"ta":30.95,"tb":30.5,"ra":66.5,"rb":68.7},
{"t":1320,"ta":30.7,"tb":30.3,"ra":67.4,"rb":69.7},
{"t":1335,"ta":30.55,"tb":30.1,"ra":67.9,"rb":70.3},
{"t":1350,"ta":30.35,"tb":29.9,"ra":68.3,"rb":70.9},
{"t":1365,"ta":30.15,"tb":29.65,"ra":68.7,"rb":71.2},
{"t":1380,"ta":30.0,"tb":29.45,"ra":69.0,"rb":71.5},
{"t":1395,"ta":29.85,"tb":29.3,"ra":69.2,"rb":71.3},
{"t":1410,"ta":29.7,"tb":29.1,"ra":69.2,"rb":71.3},
{"t":1425,"ta":29.6,"tb":28.95,"ra":69.0,"rb":71.6},
{"t":1440,"ta":29.45,"tb":28.8,"ra":69.0,"rb":71.9}
]
},
"config":{
"font":"Liberation Serif",
"view":{"fill":"#FFFBF0","stroke":"#000000","strokeWidth":4},
"axis":{"labelFont":"Liberation Serif","labelFontSize":66,"labelColor":"#000000","titleFont":"Liberation Serif","titleFontSize":66,"titleFontWeight":"normal","titleColor":"#000000","domainColor":"#000000","domainWidth":5,"tickColor":"#000000","tickWidth":4,"grid":false,"labelOverlap":false,"labelFlush":false},
"axisX":{"tickSize":18,"labelPadding":25,"titlePadding":38},
"axisY":{"tickSize":19,"labelPadding":39,"titlePadding":36},
"legend":{"labelFont":"Liberation Serif","labelFontSize":66,"labelColor":"#000000","labelLimit":3000,"symbolSize":4225,"symbolStrokeWidth":4,"labelOffset":40,"padding":8,"fillColor":"#FFFBF0","rowPadding":0}
},
"bounds":"flush",
"columns":2,
"spacing":{"row":91,"column":293},
"resolve":{"scale":{"color":"independent"},"legend":{"color":"independent"}},
"concat":[
{"width":1842,"height":661,"data":{"name":"c"},"layer":[
{"mark":{"type":"line","color":"#FF0000","strokeWidth":3.5},"encoding":{"x":{"field":"t","type":"quantitative","scale":{"domain":[0,1440],"nice":false,"zero":false},"axis":{"values":[0,60,120,180,240,300,360,420,480,540,600,660,720,780,840,900,960,1020,1080,1140,1200,1260,1320,1380,1440],"labels":false,"title":null,"grid":true,"gridColor":"#D9D9D9","gridWidth":4,"gridOpacity":{"condition":{"test":"datum.value % 180 === 0","value":1},"value":0}}},"y":{"field":"a","type":"quantitative","scale":{"domain":[0,8],"nice":false},"axis":{"values":[0,2,4,6,8],"format":"d","title":"Crate (n)"}}}},
{"mark":{"type":"point","shape":"circle","size":600,"filled":true,"fill":"#FFFFFF","stroke":"#FF0000","strokeWidth":4.5,"opacity":1},"encoding":{"x":{"field":"t","type":"quantitative","scale":{"domain":[0,1440],"nice":false,"zero":false}},"y":{"field":"a","type":"quantitative","scale":{"domain":[0,8],"nice":false}}}},
{"transform":[{"filter":"false"}],"mark":{"type":"point","filled":false,"opacity":1,"strokeWidth":4,"size":4225},"encoding":{"color":{"field":"s","type":"nominal","scale":{"domain":["Sow eating (heat-strss)"],"range":["#FF0000"]},"legend":{"title":null,"orient":"none","legendX":920,"legendY":23,"symbolType":"M-1.8,0L-0.385,0M0.385,0L1.8,0M0.385,0A0.385,0.385,0,1,1,-0.385,0A0.385,0.385,0,1,1,0.385,0Z"}}}}
]},
{"width":1840,"height":661,"data":{"name":"c"},"layer":[
{"mark":{"type":"line","color":"#FF0000","strokeWidth":3.5},"encoding":{"x":{"field":"t","type":"quantitative","scale":{"domain":[0,1440],"nice":false,"zero":false},"axis":{"values":[0,60,120,180,240,300,360,420,480,540,600,660,720,780,840,900,960,1020,1080,1140,1200,1260,1320,1380,1440],"labels":false,"title":null,"grid":true,"gridColor":"#D9D9D9","gridWidth":4,"gridOpacity":{"condition":{"test":"datum.value % 180 === 0","value":1},"value":0}}},"y":{"field":"b","type":"quantitative","scale":{"domain":[0,8],"nice":false},"axis":{"values":[0,2,4,6,8],"format":"d","title":"Crate (n)"}}}},
{"mark":{"type":"point","shape":"circle","size":600,"filled":true,"fill":"#FFFFFF","stroke":"#FF0000","strokeWidth":4.5,"opacity":1},"encoding":{"x":{"field":"t","type":"quantitative","scale":{"domain":[0,1440],"nice":false,"zero":false}},"y":{"field":"b","type":"quantitative","scale":{"domain":[0,8],"nice":false}}}},
{"transform":[{"filter":"false"}],"mark":{"type":"point","filled":false,"opacity":1,"strokeWidth":4,"size":4225},"encoding":{"color":{"field":"s","type":"nominal","scale":{"domain":["Sow standing (heat-strss)"],"range":["#FF0000"]},"legend":{"title":null,"orient":"none","legendX":859,"legendY":30,"symbolType":"M-1.8,0L-0.385,0M0.385,0L1.8,0M0.385,0A0.385,0.385,0,1,1,-0.385,0A0.385,0.385,0,1,1,0.385,0Z"}}}}
]},
{"width":1842,"height":661,"data":{"name":"c"},"layer":[
{"mark":{"type":"line","color":"#0070C0","strokeWidth":3.5},"encoding":{"x":{"field":"t","type":"quantitative","scale":{"domain":[0,1440],"nice":false,"zero":false},"axis":{"values":[0,60,120,180,240,300,360,420,480,540,600,660,720,780,840,900,960,1020,1080,1140,1200,1260,1320,1380,1440],"labels":false,"title":null,"grid":true,"gridColor":"#D9D9D9","gridWidth":4,"gridOpacity":{"condition":{"test":"datum.value % 180 === 0","value":1},"value":0}}},"y":{"field":"c","type":"quantitative","scale":{"domain":[0,8],"nice":false},"axis":{"values":[0,2,4,6,8],"format":"d","title":"Crate (n)"}}}},
{"mark":{"type":"point","shape":"triangle-up","size":900,"filled":true,"fill":"#FFFFFF","stroke":"#0070C0","strokeWidth":3.5,"opacity":1},"encoding":{"x":{"field":"t","type":"quantitative","scale":{"domain":[0,1440],"nice":false,"zero":false}},"y":{"field":"c","type":"quantitative","scale":{"domain":[0,8],"nice":false}}}},
{"transform":[{"filter":"false"}],"mark":{"type":"point","filled":false,"opacity":1,"strokeWidth":4,"size":4225},"encoding":{"color":{"field":"s","type":"nominal","scale":{"domain":["Sow eating (cooling)"],"range":["#0070C0"]},"legend":{"title":null,"orient":"none","legendX":974,"legendY":24,"symbolType":"M-1.8,0L-0.25,0M0.25,0L1.8,0M0,-0.42L-0.43,0.3L0.43,0.3Z"}}}}
]},
{"width":1840,"height":661,"data":{"name":"c"},"layer":[
{"mark":{"type":"line","color":"#0070C0","strokeWidth":3.5},"encoding":{"x":{"field":"t","type":"quantitative","scale":{"domain":[0,1440],"nice":false,"zero":false},"axis":{"values":[0,60,120,180,240,300,360,420,480,540,600,660,720,780,840,900,960,1020,1080,1140,1200,1260,1320,1380,1440],"labels":false,"title":null,"grid":true,"gridColor":"#D9D9D9","gridWidth":4,"gridOpacity":{"condition":{"test":"datum.value % 180 === 0","value":1},"value":0}}},"y":{"field":"d","type":"quantitative","scale":{"domain":[0,8],"nice":false},"axis":{"values":[0,2,4,6,8],"format":"d","title":"Crate (n)"}}}},
{"mark":{"type":"point","shape":"triangle-up","size":900,"filled":true,"fill":"#FFFFFF","stroke":"#0070C0","strokeWidth":3.5,"opacity":1},"encoding":{"x":{"field":"t","type":"quantitative","scale":{"domain":[0,1440],"nice":false,"zero":false}},"y":{"field":"d","type":"quantitative","scale":{"domain":[0,8],"nice":false}}}},
{"transform":[{"filter":"false"}],"mark":{"type":"point","filled":false,"opacity":1,"strokeWidth":4,"size":4225},"encoding":{"color":{"field":"s","type":"nominal","scale":{"domain":["Sow standing (cooling)"],"range":["#0070C0"]},"legend":{"title":null,"orient":"none","legendX":908,"legendY":23,"symbolType":"M-1.8,0L-0.25,0M0.25,0L1.8,0M0,-0.42L-0.43,0.3L0.43,0.3Z"}}}}
]},
{"width":1842,"height":661,"data":{"name":"c"},"layer":[
{"mark":{"type":"line","color":"#FF0000","strokeWidth":3.5},"encoding":{"x":{"field":"t","type":"quantitative","scale":{"domain":[0,1440],"nice":false,"zero":false},"axis":{"values":[0,60,120,180,240,300,360,420,480,540,600,660,720,780,840,900,960,1020,1080,1140,1200,1260,1320,1380,1440],"labels":false,"title":null,"grid":true,"gridColor":"#D9D9D9","gridWidth":4,"gridOpacity":{"condition":{"test":"datum.value % 180 === 0","value":1},"value":0}}},"y":{"field":"e","type":"quantitative","scale":{"domain":[0,8],"nice":false},"axis":{"values":[0,2,4,6,8],"format":"d","title":"Crate (n)"}}}},
{"mark":{"type":"point","shape":"circle","size":600,"filled":true,"fill":"#FFFFFF","stroke":"#FF0000","strokeWidth":4.5,"opacity":1},"encoding":{"x":{"field":"t","type":"quantitative","scale":{"domain":[0,1440],"nice":false,"zero":false}},"y":{"field":"e","type":"quantitative","scale":{"domain":[0,8],"nice":false}}}},
{"transform":[{"filter":"false"}],"mark":{"type":"point","filled":false,"opacity":1,"strokeWidth":4,"size":4225},"encoding":{"color":{"field":"s","type":"nominal","scale":{"domain":["Sow drinking (heat-stress)"],"range":["#FF0000"]},"legend":{"title":null,"orient":"none","legendX":829,"legendY":35,"symbolType":"M-1.8,0L-0.385,0M0.385,0L1.8,0M0.385,0A0.385,0.385,0,1,1,-0.385,0A0.385,0.385,0,1,1,0.385,0Z"}}}}
]},
{"width":1840,"height":661,"data":{"name":"c"},"layer":[
{"mark":{"type":"line","color":"#FF0000","strokeWidth":3.5},"encoding":{"x":{"field":"t","type":"quantitative","scale":{"domain":[0,1440],"nice":false,"zero":false},"axis":{"values":[0,60,120,180,240,300,360,420,480,540,600,660,720,780,840,900,960,1020,1080,1140,1200,1260,1320,1380,1440],"labels":false,"title":null,"grid":true,"gridColor":"#D9D9D9","gridWidth":4,"gridOpacity":{"condition":{"test":"datum.value % 180 === 0","value":1},"value":0}}},"y":{"field":"f","type":"quantitative","scale":{"domain":[0,8],"nice":false},"axis":{"values":[0,2,4,6,8],"format":"d","title":"Crate (n)"}}}},
{"mark":{"type":"point","shape":"circle","size":600,"filled":true,"fill":"#FFFFFF","stroke":"#FF0000","strokeWidth":4.5,"opacity":1},"encoding":{"x":{"field":"t","type":"quantitative","scale":{"domain":[0,1440],"nice":false,"zero":false}},"y":{"field":"f","type":"quantitative","scale":{"domain":[0,8],"nice":false}}}},
{"transform":[{"filter":"false"}],"mark":{"type":"point","filled":false,"opacity":1,"strokeWidth":4,"size":4225},"encoding":{"color":{"field":"s","type":"nominal","scale":{"domain":["Sow sitting (heat-stress)"],"range":["#FF0000"]},"legend":{"title":null,"orient":"none","legendX":886,"legendY":32,"symbolType":"M-1.8,0L-0.385,0M0.385,0L1.8,0M0.385,0A0.385,0.385,0,1,1,-0.385,0A0.385,0.385,0,1,1,0.385,0Z"}}}}
]},
{"width":1842,"height":661,"data":{"name":"c"},"layer":[
{"mark":{"type":"line","color":"#0070C0","strokeWidth":3.5},"encoding":{"x":{"field":"t","type":"quantitative","scale":{"domain":[0,1440],"nice":false,"zero":false},"axis":{"values":[0,60,120,180,240,300,360,420,480,540,600,660,720,780,840,900,960,1020,1080,1140,1200,1260,1320,1380,1440],"labels":false,"title":null,"grid":true,"gridColor":"#D9D9D9","gridWidth":4,"gridOpacity":{"condition":{"test":"datum.value % 180 === 0","value":1},"value":0}}},"y":{"field":"g","type":"quantitative","scale":{"domain":[0,8],"nice":false},"axis":{"values":[0,2,4,6,8],"format":"d","title":"Crate (n)"}}}},
{"mark":{"type":"point","shape":"triangle-up","size":900,"filled":true,"fill":"#FFFFFF","stroke":"#0070C0","strokeWidth":3.5,"opacity":1},"encoding":{"x":{"field":"t","type":"quantitative","scale":{"domain":[0,1440],"nice":false,"zero":false}},"y":{"field":"g","type":"quantitative","scale":{"domain":[0,8],"nice":false}}}},
{"transform":[{"filter":"false"}],"mark":{"type":"point","filled":false,"opacity":1,"strokeWidth":4,"size":4225},"encoding":{"color":{"field":"s","type":"nominal","scale":{"domain":["Sow drinking (cooling)"],"range":["#0070C0"]},"legend":{"title":null,"orient":"none","legendX":913,"legendY":27,"symbolType":"M-1.8,0L-0.25,0M0.25,0L1.8,0M0,-0.42L-0.43,0.3L0.43,0.3Z"}}}}
]},
{"width":1840,"height":661,"data":{"name":"c"},"layer":[
{"mark":{"type":"line","color":"#0070C0","strokeWidth":3.5},"encoding":{"x":{"field":"t","type":"quantitative","scale":{"domain":[0,1440],"nice":false,"zero":false},"axis":{"values":[0,60,120,180,240,300,360,420,480,540,600,660,720,780,840,900,960,1020,1080,1140,1200,1260,1320,1380,1440],"labels":false,"title":null,"grid":true,"gridColor":"#D9D9D9","gridWidth":4,"gridOpacity":{"condition":{"test":"datum.value % 180 === 0","value":1},"value":0}}},"y":{"field":"h","type":"quantitative","scale":{"domain":[0,8],"nice":false},"axis":{"values":[0,2,4,6,8],"format":"d","title":"Crate (n)"}}}},
{"mark":{"type":"point","shape":"triangle-up","size":900,"filled":true,"fill":"#FFFFFF","stroke":"#0070C0","strokeWidth":3.5,"opacity":1},"encoding":{"x":{"field":"t","type":"quantitative","scale":{"domain":[0,1440],"nice":false,"zero":false}},"y":{"field":"h","type":"quantitative","scale":{"domain":[0,8],"nice":false}}}},
{"transform":[{"filter":"false"}],"mark":{"type":"point","filled":false,"opacity":1,"strokeWidth":4,"size":4225},"encoding":{"color":{"field":"s","type":"nominal","scale":{"domain":["Sow sitting (cooling)"],"range":["#0070C0"]},"legend":{"title":null,"orient":"none","legendX":962,"legendY":14,"symbolType":"M-1.8,0L-0.25,0M0.25,0L1.8,0M0,-0.42L-0.43,0.3L0.43,0.3Z"}}}}
]},
{"width":1842,"height":661,"data":{"name":"e"},"resolve":{"scale":{"color":"independent"},"legend":{"color":"independent"}},"layer":[
{"mark":{"type":"line","color":"#000000","strokeWidth":3},"encoding":{"x":{"field":"t","type":"quantitative","scale":{"domain":[0,1440],"nice":false,"zero":false},"axis":{"values":[0,60,120,180,240,300,360,420,480,540,600,660,720,780,840,900,960,1020,1080,1140,1200,1260,1320,1380,1440],"labelExpr":"datum.value % 180 === 0 ? floor(datum.value / 60) % 24 + ':00' : ''","title":"Time of day (hh:mm)","grid":true,"gridColor":"#D9D9D9","gridWidth":4,"gridOpacity":{"condition":{"test":"datum.value % 180 === 0","value":1},"value":0}}},"y":{"field":"ta","type":"quantitative","scale":{"domain":[20,40],"nice":false,"zero":false},"axis":{"values":[20,25,30,35,40],"format":"d","title":"Temperature (°C)"}}}},
{"mark":{"type":"point","shape":"M-1,-1L1,1M-1,1L1,-1","size":160,"filled":false,"stroke":"#000000","strokeWidth":2.5,"opacity":1},"encoding":{"x":{"field":"t","type":"quantitative","scale":{"domain":[0,1440],"nice":false,"zero":false}},"y":{"field":"ta","type":"quantitative","scale":{"domain":[20,40],"nice":false,"zero":false},"axis":{"title":"Temperature (°C)"}}}},
{"mark":{"type":"line","color":"#FF0000","strokeWidth":3},"encoding":{"x":{"field":"t","type":"quantitative","scale":{"domain":[0,1440],"nice":false,"zero":false}},"y":{"field":"tb","type":"quantitative","scale":{"domain":[20,40],"nice":false,"zero":false},"axis":{"title":"Temperature (°C)"}}}},
{"mark":{"type":"point","shape":"square","size":200,"filled":true,"fill":"#FFFFFF","stroke":"#FF0000","strokeWidth":2.5,"opacity":1},"encoding":{"x":{"field":"t","type":"quantitative","scale":{"domain":[0,1440],"nice":false,"zero":false}},"y":{"field":"tb","type":"quantitative","scale":{"domain":[20,40],"nice":false,"zero":false},"axis":{"title":"Temperature (°C)"}}}},
{"transform":[{"filter":"false"}],"mark":{"type":"point","filled":false,"opacity":1,"strokeWidth":4,"size":4225},"encoding":{"color":{"field":"s1","type":"nominal","scale":{"domain":["Room A"],"range":["#1E5B1E"]},"legend":{"title":null,"orient":"none","legendX":1205,"legendY":441,"symbolType":"M-1.8,0L1.8,0M-0.18,-0.18L0.18,0.18M-0.18,0.18L0.18,-0.18"}}}},
{"transform":[{"filter":"false"}],"mark":{"type":"point","filled":false,"opacity":1,"strokeWidth":4,"size":4225},"encoding":{"color":{"field":"s2","type":"nominal","scale":{"domain":["Room B"],"range":["#FF0000"]},"legend":{"title":null,"orient":"none","legendX":1205,"legendY":533,"symbolType":"M-1.8,0L-0.2,0M0.2,0L1.8,0M-0.2,-0.2L0.2,-0.2L0.2,0.2L-0.2,0.2Z"}}}}
]},
{"width":1840,"height":661,"data":{"name":"e"},"resolve":{"scale":{"color":"independent"},"legend":{"color":"independent"}},"layer":[
{"mark":{"type":"line","color":"#000000","strokeWidth":3},"encoding":{"x":{"field":"t","type":"quantitative","scale":{"domain":[0,1440],"nice":false,"zero":false},"axis":{"values":[0,60,120,180,240,300,360,420,480,540,600,660,720,780,840,900,960,1020,1080,1140,1200,1260,1320,1380,1440],"labelExpr":"datum.value % 180 === 0 ? floor(datum.value / 60) % 24 + ':00' : ''","title":"Time of day (hh:mm)","grid":true,"gridColor":"#D9D9D9","gridWidth":4,"gridOpacity":{"condition":{"test":"datum.value % 180 === 0","value":1},"value":0}}},"y":{"field":"ra","type":"quantitative","scale":{"domain":[40,90],"nice":false,"zero":false},"axis":{"values":[40,50,60,70,80,90],"format":"d","title":"Relative hymidity (%)"}}}},
{"mark":{"type":"point","shape":"M-1,-1L1,1M-1,1L1,-1","size":160,"filled":false,"stroke":"#000000","strokeWidth":2.5,"opacity":1},"encoding":{"x":{"field":"t","type":"quantitative","scale":{"domain":[0,1440],"nice":false,"zero":false}},"y":{"field":"ra","type":"quantitative","scale":{"domain":[40,90],"nice":false,"zero":false},"axis":{"title":"Relative hymidity (%)"}}}},
{"mark":{"type":"line","color":"#FF0000","strokeWidth":3},"encoding":{"x":{"field":"t","type":"quantitative","scale":{"domain":[0,1440],"nice":false,"zero":false}},"y":{"field":"rb","type":"quantitative","scale":{"domain":[40,90],"nice":false,"zero":false},"axis":{"title":"Relative hymidity (%)"}}}},
{"mark":{"type":"point","shape":"square","size":200,"filled":true,"fill":"#FFFFFF","stroke":"#FF0000","strokeWidth":2.5,"opacity":1},"encoding":{"x":{"field":"t","type":"quantitative","scale":{"domain":[0,1440],"nice":false,"zero":false}},"y":{"field":"rb","type":"quantitative","scale":{"domain":[40,90],"nice":false,"zero":false},"axis":{"title":"Relative hymidity (%)"}}}},
{"transform":[{"filter":"false"}],"mark":{"type":"point","filled":false,"opacity":1,"strokeWidth":4,"size":4225},"encoding":{"color":{"field":"s1","type":"nominal","scale":{"domain":["Room A"],"range":["#000000"]},"legend":{"title":null,"orient":"none","legendX":1213,"legendY":38,"symbolType":"M-1.8,0L1.8,0M-0.18,-0.18L0.18,0.18M-0.18,0.18L0.18,-0.18"}}}},
{"transform":[{"filter":"false"}],"mark":{"type":"point","filled":false,"opacity":1,"strokeWidth":4,"size":4225},"encoding":{"color":{"field":"s2","type":"nominal","scale":{"domain":["Room B"],"range":["#FF0000"]},"legend":{"title":null,"orient":"none","legendX":1213,"legendY":129,"symbolType":"M-1.8,0L-0.2,0M0.2,0L1.8,0M-0.2,-0.2L0.2,-0.2L0.2,0.2L-0.2,0.2Z"}}}}
]}
]
}
